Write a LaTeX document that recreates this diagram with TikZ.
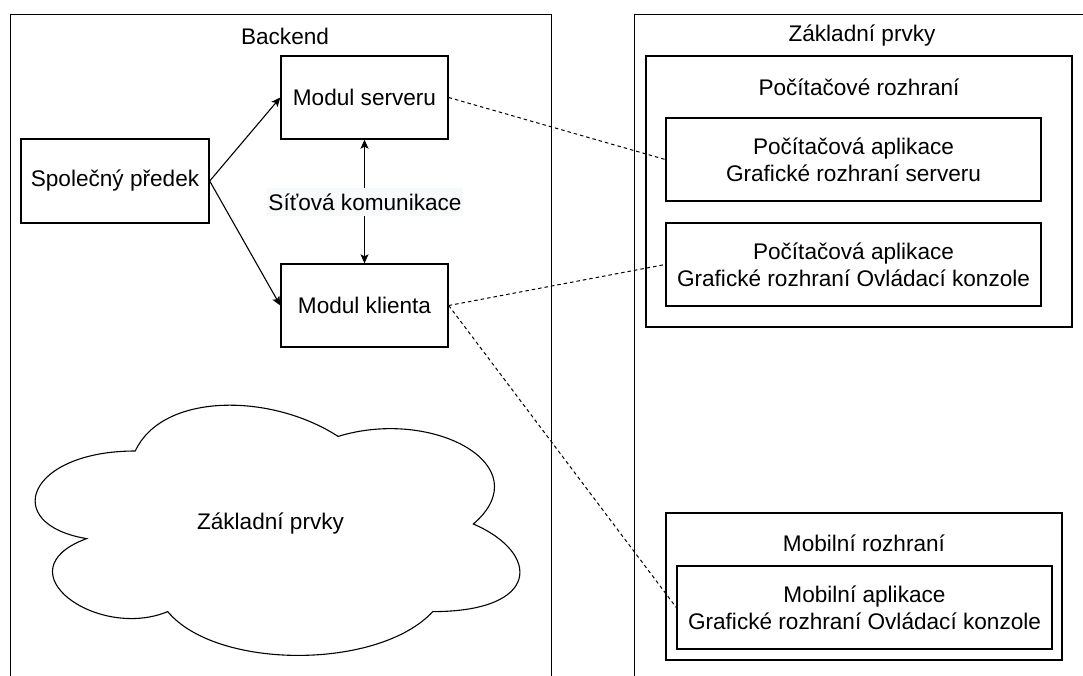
\documentclass[tikz,border=0pt]{standalone}
\usepackage{fontspec}
\setmainfont{Liberation Sans}
\usetikzlibrary{arrows.meta}
\definecolor{labelbg}{HTML}{F8F9FA}

\begin{document}
\begin{tikzpicture}[x=1pt, y=-1pt,
  every node/.style={font=\fontsize{22.6}{27.1}\selectfont},
  frame/.style={draw=black, line width=1.4pt, rectangle, inner sep=0pt},
  unit/.style={frame, align=center},
  caption/.style={inner sep=0pt},
  flow/.style={line width=1.1pt, -{Stealth[length=9pt,width=8pt,inset=2pt]}},
  both/.style={line width=1.1pt, {Stealth[length=9pt,width=8pt,inset=2pt]}-{Stealth[length=9pt,width=8pt,inset=2pt]}},
  link/.style={line width=1pt, dash pattern=on 3.5pt off 3pt}]

\useasboundingbox (0,0) rectangle (1083,675);
\clip (0,0) rectangle (1083,675);

% open-ended containers
\node[frame, minimum width=541pt, minimum height=700pt, anchor=north west] (backend) at (10,14) {};
\node[caption] (backendtitle) at (285,36) {Backend};
\node[frame, minimum width=470pt, minimum height=700pt, anchor=north west] (basics) at (634,14) {};
\node[caption] (basicstitle) at (862,36) {Základní prvky};

% cloud
\draw[line width=1.1pt, fill=white]
  (135.25,451) .. controls (27.05,451) and (0,524) .. (86.56,538.6)
  .. controls (0,570.72) and (97.38,640.8) .. (167.71,611.6)
  .. controls (216.4,670) and (378.7,670) .. (432.8,611.6)
  .. controls (541,611.6) and (541,553.2) .. (473.375,524)
  .. controls (541,465.6) and (432.8,407.2) .. (338.125,436.4)
  .. controls (270.5,392.6) and (162.3,392.6) .. (135.25,451) -- cycle;
\node[caption] (cloudtext) at (270.5,524) {Základní prvky};

% backend modules
\node[unit, minimum width=188pt, minimum height=84pt] (spolecny) at (115,181) {Společný předek};
\node[unit, minimum width=167pt, minimum height=83pt] (server) at (364.5,97.5) {Modul serveru};
\node[unit, minimum width=167pt, minimum height=83pt] (klient) at (364.5,305.5) {Modul klienta};

% interfaces
\node[frame, minimum width=426pt, minimum height=271pt] (pciface) at (859,191.5) {};
\node[caption] (pcifacetitle) at (859,87) {Počítačové rozhraní};
\node[unit, minimum width=375pt, minimum height=83pt] (pcapp1) at (853.5,159.5) {Počítačová aplikace\\Grafické rozhraní serveru};
\node[unit, minimum width=375pt, minimum height=83pt] (pcapp2) at (853.5,264.5) {Počítačová aplikace\\Grafické rozhraní Ovládací konzole};

\node[frame, minimum width=396pt, minimum height=147pt] (mobiface) at (864,586.5) {};
\node[caption] (mobifacetitle) at (864,543) {Mobilní rozhraní};
\node[unit, minimum width=375pt, minimum height=83pt] (mobapp) at (864.5,607.5) {Mobilní aplikace\\Grafické rozhraní Ovládací konzole};

% connectors
\draw[flow] (spolecny.east) -- (server.west);
\draw[flow] (spolecny.east) -- (klient.west);
\draw[both] (server.south) -- (klient.north);
\node[fill=labelbg, inner xsep=1pt, inner ysep=0pt, minimum height=28pt] (netlabel) at (365,202) {Síťová komunikace};

\draw[link] (server.east) -- (pcapp1.west);
\draw[link] (klient.east) -- (pcapp2.west);
\draw[link] (klient.east) -- (mobapp.west);
\end{tikzpicture}
\end{document}
